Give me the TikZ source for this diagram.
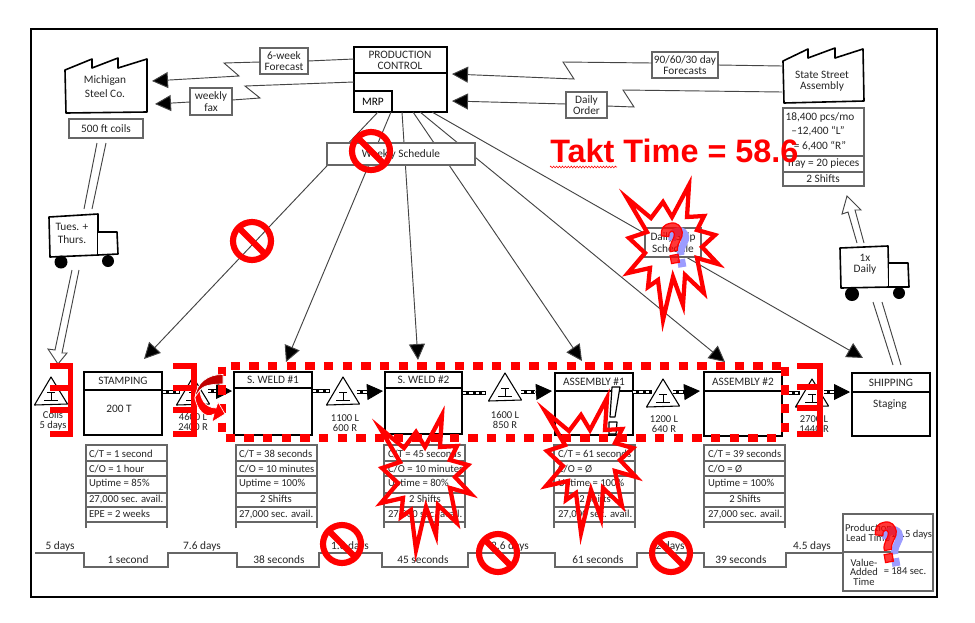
\documentclass[tikz,border=0pt]{standalone}
\usepackage{fontspec}
\setmainfont{Carlito}
\newfontfamily\taktfont{Liberation Sans}
\usetikzlibrary{arrows.meta,decorations.pathmorphing}
\definecolor{boxgray}{HTML}{666666}
\definecolor{inkgray}{HTML}{444444}
\definecolor{qblue}{HTML}{9C9CFF}
\definecolor{darkred}{HTML}{C00000}
\newcommand{\txtA}{\fontsize{8.5pt}{9.5pt}\selectfont}
\newcommand{\txtB}{\fontsize{7.9pt}{8.5pt}\selectfont}
\newcommand{\txtC}{\fontsize{8pt}{9pt}\selectfont}
\tikzset{
  lbl/.style={inner sep=0pt,outer sep=0pt,font=\txtA,text=black!85},
  lblleft/.style={lbl,anchor=west,font=\txtC},
  small/.style={lbl,font=\txtB},
  flow/.style={draw=inkgray,line width=0.7pt},
  arrowbig/.style={flow,-{Triangle[length=12pt,width=12pt,fill=black]}},
  graybox/.style={draw=boxgray,line width=0.8pt,fill=white,inner sep=0pt,outer sep=0pt,align=center,font=\txtA,text=black!85},
  procframe/.style={draw=black,line width=1.2pt,inner sep=0pt,outer sep=0pt,fill=white},
  heavy/.style={draw=black,line width=1.2pt},
  tableline/.style={draw=boxgray,line width=0.8pt},
  redstar/.style={draw=red,line width=3.2pt,miter limit=20,line join=miter},
  nosign/.style={draw=red,line width=4.6pt},
  kaizen/.style={draw=red,line width=3.9pt},
  reddash/.style={draw=red,line width=6pt,dash pattern=on 7pt off 7pt},
  pushbar/.style={draw=black,line width=3.6pt},
  pushgap/.style={draw=white,line width=1.6pt,dash pattern=on 2.4pt off 2.4pt},
  pushhead/.style={draw=black,line width=0.6pt,-{Triangle[length=12pt,width=12pt,fill=black]}},
  stepline/.style={draw=boxgray,line width=0.8pt},
}
% box from corners
\newcommand{\cornerbox}[7][graybox]{%
  \node[#1,minimum width={(#5-#3)*0.75pt},minimum height={(#6-#4)*0.75pt}] (#2) at ({(#3+#5)/2},{(#4+#6)/2}) {#7};}
% process box: name x0 y0 x1 y1 divider title
\newcommand{\procbox}[7]{%
  \cornerbox[procframe]{#1}{#2}{#3}{#4}{#5}{}%
  \draw[heavy] (#1.west |- 0,#6) -- (#1.east |- 0,#6);
  \node[lbl] (#1title) at ({(#2+#4)/2},{(#3+#6)/2}) {#7};}
% inventory triangle: name apexx apexy
\newcommand{\invtri}[3]{%
  \coordinate (#1) at (#2,#3);
  \draw[draw=black,line width=0.8pt,line join=round,fill=white] (#1) -- +(-16.5,28) -- +(16.5,27) -- cycle;
  \draw[draw=black,line width=0.7pt] (#2-4,#3+15) -- (#2+4,#3+15) (#2,#3+15) -- (#2,#3+23) (#2-7,#3+23) -- (#2+7,#3+23);}
% table rows
\newcommand{\tablegrid}[2]{%
  \draw[tableline] (#1,528) -- (#1,445) -- (#2,445) -- (#2,528)
    (#1,461) -- (#2,461) (#1,476) -- (#2,476) (#1,493) -- (#2,493) (#1,507) -- (#2,507) (#1,522) -- (#2,522);}
\newcommand{\starpath}{(627,198) -- (651,218) -- (663,202) -- (672,217) -- (689,185) -- (687,217) -- (704,216) -- (697,230) -- (715,235) -- (702,247) -- (718,264) -- (697,258) -- (704,293) -- (685,275) -- (683,305) -- (673,277) -- (663,320) -- (658,280) -- (648,287) -- (650,268) -- (628,273) -- (645,253) -- (629,238) -- (647,232) -- cycle}
\newcommand{\qshape}{(-10,-9) .. controls (-10,-17) and (-5,-20) .. (1,-20) .. controls (8,-20) and (11,-15) .. (11,-9) .. controls (11,-3) and (4,0) .. (3,8) -- (-4,8) .. controls (-5,0) and (3,-4) .. (3,-9) .. controls (3,-13) and (-3,-13) .. (-3,-7) -- cycle (-5,12) -- (3,12) -- (3,20) -- (-5,20) -- cycle}
\newcommand{\qmark}[2]{%
  \begin{scope}[shift={(#1,#2)},xshift=5.2pt,yshift=-3.2pt,rotate=-170,yscale=-1,xscale=-1]
    \fill[qblue,even odd rule] \qshape;
  \end{scope}
  \begin{scope}[shift={(#1,#2)},rotate=-170,yscale=-1,xscale=-1]
    \filldraw[draw=red,fill=red,fill opacity=0.78,line width=0.9pt,even odd rule] \qshape;
  \end{scope}}
\begin{document}
\begin{tikzpicture}[x=0.75pt,y=-0.75pt]
\useasboundingbox (0,0) rectangle (975,622);
\fill[white] (0,0) rectangle (975,622);
\draw[black,line width=1.5pt] (31,29) rectangle (937,597);

% ---------- production control and flows
\cornerbox[procframe]{pc}{354}{47}{447}{112}{}
\draw[heavy] (pc.west |- 0,73) -- (pc.east |- 0,73);
\node[lbl] (pctitleA) at (400,55) {PRODUCTION};
\node[lbl] (pctitleB) at (400,66) {CONTROL};
\cornerbox[procframe]{mrp}{354}{91}{392}{112}{\txtA MRP}

% supplier
\draw[heavy,fill=white,line join=round] (65,70) -- (92,59) -- (92,68) -- (118,58) -- (118,68) -- (147,59) -- (147,112) -- (66,113) -- cycle;
\node[lbl] (mich1) at (105,81) {Michigan};
\node[lbl] (mich2) at (105,94) {Steel Co.};
\cornerbox{coils}{69}{119}{143}{138}{500 ft coils}

% customer
\draw[heavy,fill=white,line join=round] (783,61) -- (808,49) -- (808,58) -- (835,48) -- (835,58) -- (863,49) -- (864,101) -- (784,103) -- cycle;
\node[lbl] (st1) at (822,75) {State Street};
\node[lbl] (st2) at (822,86) {Assembly};
\cornerbox[graybox]{cinfo}{783}{108}{864}{186}{}
\draw[tableline] (cinfo.west |- 0,156) -- (cinfo.east |- 0,156) (cinfo.west |- 0,172) -- (cinfo.east |- 0,172);
\node[lbl] (ci1) at (820,117) {18,400 pcs/mo};
\node[lbl] (ci2) at (818,131) {--12,400 ``L''};
\node[lbl] (ci3) at (820,146) {= 6,400 ``R''};
\node[lbl] (ci4) at (823,164) {Tray = 20 pieces};
\node[lbl] (ci5) at (823,179) {2 Shifts};

% info flows
\cornerbox{fc6}{260}{48}{308}{74}{6-week\\[-1pt]Forecast}
\cornerbox{fax}{190}{88}{232}{115}{weekly\\[-1pt]fax}
\cornerbox{fc90}{652}{52}{718}{78}{90/60/30 day\\[-1pt]Forecasts}
\cornerbox{dord}{566}{92}{607}{118}{Daily\\[-1pt]Order}
\coordinate (tipM1) at (152,81);
\coordinate (tipM2) at (155,104);
\coordinate (tipP1) at (452,74);
\coordinate (tipP2) at (452,101);
\coordinate (pcL1) at (354,59);
\coordinate (pcL2) at (354,82);
\coordinate (stL1) at (782,66);
\coordinate (stL2) at (782,92);
\draw[flow] (pcL1) -- (fc6.east |- 0,61);
\draw[arrowbig] (fc6.west |- 0,62) -- (224,63) -- (239,76) -- (tipM1);
\draw[flow] (pcL2) -- (245,86) -- (260,98) -- (fax.east |- 0,100);
\draw[arrowbig] (fax.west |- 0,102) -- (tipM2);
\draw[flow] (stL1) -- (fc90.east |- 0,65);
\draw[arrowbig] (fc90.west |- 0,63) -- (563,62) -- (574,79) -- (tipP1);
\draw[flow] (stL2) -- (623,90) -- (634,107) -- (dord.east |- 0,106);
\draw[arrowbig] (dord.west |- 0,104) -- (tipP2);

% schedule lines
\coordinate (pcS1) at (378,112);
\coordinate (pcS2) at (391,112);
\coordinate (pcS3) at (402,112);
\coordinate (pcS4) at (413,112);
\coordinate (pcS5) at (420,112);
\coordinate (pcS6) at (432,112);
\coordinate (tipStamp) at (144,359);
\coordinate (tipW1) at (286,362);
\coordinate (tipW2) at (418,360);
\coordinate (tipA1) at (582,361);
\coordinate (tipA2) at (725,362);
\coordinate (tipShip) at (863,358);
\draw[arrowbig] (pcS1) -- (tipStamp);
\draw[arrowbig] (pcS2) -- (tipW1);
\draw[arrowbig] (pcS3) -- (tipW2);
\draw[arrowbig] (pcS4) -- (tipA1);
\draw[arrowbig] (pcS5) -- (tipA2);
\draw[arrowbig] (pcS6) -- (tipShip);
\cornerbox{wsched}{327}{143}{475}{165}{Weekly Schedule}
\cornerbox{dship}{645}{228}{701}{257}{Daily Ship\\[-1pt]Schedule}

% trucks and shipments
\coordinate (coilsA) at (97,143); \coordinate (coilsB) at (106,143);
\coordinate (truckTA) at (84,209); \coordinate (truckTB) at (92,209);
\draw[flow] (coilsA) -- (truckTA) (coilsB) -- (truckTB);
\draw[heavy,fill=white,line join=round] (49,217) -- (98,214) -- (98,255) -- (50,257) -- cycle;
\draw[heavy,fill=white,line join=round] (98,232) -- (117,232) -- (118,254) -- (98,255);
\fill[black] (61,262) circle (6.5) (108,261) circle (6);
\node[lbl] (tt1) at (72,227) {Tues. +};
\node[lbl] (tt2) at (72,240) {Thurs.};
\coordinate (coilTipA) at (55,350); \coordinate (coilTipB) at (62,353);
\coordinate (truckBA) at (72,270); \coordinate (truckBB) at (79,270);
\draw[flow] (truckBA) -- (coilTipA) -- (48,349) -- (58,364) -- (67,353) -- (coilTipB) -- (truckBB);

\draw[heavy,fill=white,line join=round] (840,248) -- (888,246) -- (889,287) -- (841,288) -- cycle;
\draw[heavy,fill=white,line join=round] (889,263) -- (908,263) -- (909,287) -- (889,287);
\fill[black] (852,294) circle (7) (899,293) circle (6);
\node[lbl] (tr1) at (865,258) {1x};
\node[lbl] (tr2) at (865,269) {Daily};
\coordinate (rtA) at (857,243); \coordinate (rtB) at (864,243);
\draw[flow] (rtA) -- (848,212) -- (842,214) -- (847,196) -- (861,210) -- (855,210) -- (rtB);
\coordinate (rbA) at (873,302); \coordinate (rbB) at (882,302);
\coordinate (shA) at (893,365); \coordinate (shB) at (901,365);
\draw[flow] (rbA) -- (shA) (rbB) -- (shB);

% ---------- process row
\procbox{stamp}{84}{372}{162}{435}{390}{STAMPING}
\node[lbl] (stamp200) at (119,409) {200 T};
\procbox{weldA}{234}{372}{312}{435}{388}{S. WELD \#1}
\procbox{weldB}{385}{372}{462}{434}{388}{S. WELD \#2}
\procbox{asmA}{555}{373}{633}{435}{391}{ASSEMBLY \#1}
\procbox{asmB}{704}{372}{782}{436}{391}{ASSEMBLY \#2}
\procbox{ship}{852}{373}{930}{436}{392}{SHIPPING}
\node[lbl] (staging) at (890,405) {Staging};

\invtri{iCoil}{51}{377}
\invtri{iTwo}{193}{377}
\invtri{iThree}{343}{377}
\invtri{iFour}{505}{373}
\invtri{iFive}{663}{379}
\invtri{iSix}{812}{379}
\node[small] (a1) at (53,415) {Coils};
\node[small] (a2) at (53,426) {5 days};
\node[small] (b1) at (193,417) {4600 L};
\node[small] (b2) at (193,427) {2400 R};
\node[small] (c1) at (345,418) {1100 L};
\node[small] (c2) at (345,428) {600 R};
\node[small] (d1) at (505,415) {1600 L};
\node[small] (d2) at (505,425) {850 R};
\node[small] (e1) at (664,419) {1200 L};
\node[small] (e2) at (664,429) {640 R};
\node[small] (f1) at (814,419) {2700 L};
\node[small] (f2) at (814,429) {1440 R};

% push arrows
\coordinate (p1a) at (163,392); \coordinate (p1b) at (180,392);
\coordinate (p2a) at (208,391); \coordinate (p2b) at (222,391); \coordinate (p2t) at (232,391);
\coordinate (p3a) at (313,391); \coordinate (p3b) at (330,391);
\coordinate (p4a) at (357,392); \coordinate (p4b) at (367,392); \coordinate (p4t) at (383,391);
\coordinate (p5a) at (463,393); \coordinate (p5b) at (486,393);
\coordinate (p6a) at (521,392); \coordinate (p6b) at (535,392); \coordinate (p6t) at (552,391);
\coordinate (p7a) at (633,392); \coordinate (p7b) at (652,392);
\coordinate (p8a) at (673,392); \coordinate (p8b) at (685,392); \coordinate (p8t) at (700,391);
\coordinate (p9a) at (782,393); \coordinate (p9b) at (800,393);
\coordinate (p10a) at (824,392); \coordinate (p10b) at (834,392); \coordinate (p10t) at (850,392);
\foreach \u/\v in {p1a/p1b,p2a/p2b,p3a/p3b,p4a/p4b,p5a/p5b,p6a/p6b,p7a/p7b,p8a/p8b,p9a/p9b,p10a/p10b}{
  \draw[pushbar] (\u) -- (\v);
  \draw[pushgap] (\u) -- (\v);
}
\foreach \u/\v in {p2b/p2t,p4b/p4t,p6b/p6t,p8b/p8t,p10b/p10t}{
  \draw[pushhead] (\u) -- (\v);
}

% ---------- data tables
\tablegrid{86}{167}
\node[lblleft] (s1) at (89,454) {C/T = 1 second};
\node[lblleft] (s2) at (89,469) {C/O = 1 hour};
\node[lblleft] (s3) at (89,484) {Uptime = 85\%};
\node[lblleft] (s4) at (89,499) {27,000 sec. avail.};
\node[lblleft] (s5) at (89,514) {EPE = 2 weeks};
\tablegrid{236}{317}
\node[lblleft] (g1) at (239,454) {C/T = 38 seconds};
\node[lblleft] (g2) at (239,469) {C/O = 10 minutes};
\node[lblleft] (g3) at (239,484) {Uptime = 100\%};
\node[lbl,font=\txtC] (g4) at (276,499) {2 Shifts};
\node[lblleft] (g5) at (239,514) {27,000 sec. avail.};
\tablegrid{384}{465}
\node[lblleft] (h1) at (388,454) {C/T = 45 seconds};
\node[lblleft] (h2) at (388,469) {C/O = 10 minutes};
\node[lblleft] (h3) at (388,484) {Uptime = 80\%};
\node[lbl,font=\txtC] (h4) at (425,499) {2 Shifts};
\node[lblleft] (h5) at (388,514) {27,000 sec. avail.};
\tablegrid{554}{635}
\node[lblleft] (j1) at (558,454) {C/T = 61 seconds};
\node[lblleft] (j2) at (558,469) {C/O = Ø};
\node[lblleft] (j3) at (558,484) {Uptime = 100\%};
\node[lbl,font=\txtC] (j4) at (595,499) {2 Shifts};
\node[lblleft] (j5) at (558,514) {27,000 sec. avail.};
\tablegrid{704}{785}
\node[lblleft] (k1) at (708,454) {C/T = 39 seconds};
\node[lblleft] (k2) at (708,469) {C/O = Ø};
\node[lblleft] (k3) at (708,484) {Uptime = 100\%};
\node[lbl,font=\txtC] (k4) at (745,499) {2 Shifts};
\node[lblleft] (k5) at (708,514) {27,000 sec. avail.};

% ---------- timeline
\cornerbox[graybox]{summary}{843}{514}{933}{591}{}
\draw[stepline] (summary.west |- 0,552) -- (summary.east |- 0,552);
\coordinate (tlstart) at (35,553);
\draw[stepline] (tlstart) -- (84,553) -- (84,567) -- (168,567) -- (168,553) -- (237,553) -- (237,567) -- (319,567) -- (319,553) -- (382,553) -- (382,567) -- (468,567) -- (468,553) -- (555,553) -- (555,567) -- (637,567) -- (637,553) -- (704,553) -- (704,567) -- (786,567) -- (786,553) -- (summary.west |- 0,553);
\node[lbl] (t1) at (60,546) {5 days};
\node[lbl] (t2) at (128,560) {1 second};
\node[lbl] (t3) at (202,546) {7.6 days};
\node[lbl] (t4) at (279,560) {38 seconds};
\node[lbl] (t5) at (350,546) {1.8 days};
\node[lbl] (t6) at (423,560) {45 seconds};
\node[lbl] (t7) at (510,546) {2.6 days};
\node[lbl] (t8) at (598,560) {61 seconds};
\node[lbl] (t9) at (670,546) {2 days};
\node[lbl] (t10) at (741,560) {39 seconds};
\node[lbl] (t11) at (812,546) {4.5 days};
\node[small,anchor=west] (u1) at (845,528) {Production};
\node[small,anchor=west] (u2) at (846,538) {Lead Time};
\node[small,anchor=east] (u3) at (932,535) {= 23.5 days};
\node[small] (u4) at (864,563) {Value-};
\node[small] (u5) at (864,572) {Added};
\node[small] (u6) at (864,582) {Time};
\node[small] (u7) at (905,571) {= 184 sec.};

% ---------- exclamation mark
\draw[draw=black,line width=0.9pt,fill=white,line join=round] (612,387) -- (620,387) -- (615,417) -- (610,417) -- cycle;
\draw[draw=black,line width=0.9pt,fill=white,line join=round] (609,422) -- (617,422) -- (616,434) -- (609,434) -- cycle;

% ---------- red overlays
\draw[reddash] (230.5,366) -- (785,366);
\draw[reddash] (225.5,438) -- (780,438);
\draw[reddash] (222,366.5) -- (222,433);
\draw[reddash] (785,366.5) -- (785,433);

\draw[kaizen] (50,366) -- (70.5,366) (50,388) -- (70.5,388) (50,410) -- (70.5,410) (50,434) -- (70.5,434) (70.5,363.4) -- (70.5,436.6);
\draw[kaizen] (173,366) -- (194,366) (173,388) -- (194,388) (173,410) -- (194,410) (173,434) -- (194,434) (194,363.4) -- (194,436.6);
\draw[kaizen] (797,366) -- (820,366) (797,387) -- (820,387) (797,408) -- (820,408) (797,434) -- (820,434) (820,363.4) -- (820,436.6);

% curved arrow
\draw[draw=white,line width=0.5pt,fill=darkred] (223,374.5) .. controls (208,374) and (196,383) .. (195,398) -- (200,390) .. controls (203,386) and (210,384) .. (223,384) -- cycle;
\draw[draw=white,line width=0.5pt,fill=red] (195,397) .. controls (196,409) and (206,420) .. (214,414) -- (212,422) -- (225,414) -- (218,402) -- (216,408) .. controls (205,408) and (200,398) .. (200,390) -- cycle;

% stars
\draw[redstar] \starpath;
\begin{scope}[shift={(-247,230)}]\draw[redstar] \starpath;\end{scope}
\begin{scope}[shift={(-82,213)}]\draw[redstar] \starpath;\end{scope}

% no signs
\foreach \cx/\cy in {371/151,252/241,342/544,498/553,671/553}{
  \draw[nosign] (\cx,\cy) circle[radius=19];
  \draw[nosign] (\cx-13.4,\cy-13.4) -- (\cx+13.4,\cy+13.4);
}

% question marks
\qmark{673}{243}
\qmark{887}{542}

% takt
\node[anchor=base west,inner sep=0pt,text=red,font=\taktfont\bfseries\fontsize{24.3pt}{26pt}\selectfont] (takt) at (550,162) {Takt Time = 58.6};
\coordinate (sqA) at (550,167); \coordinate (sqB) at (617,167);
\draw[draw=red,line width=0.4pt,decorate,decoration={zigzag,segment length=2.2pt,amplitude=0.7pt}] (sqA) -- (sqB);
\end{tikzpicture}
\end{document}
